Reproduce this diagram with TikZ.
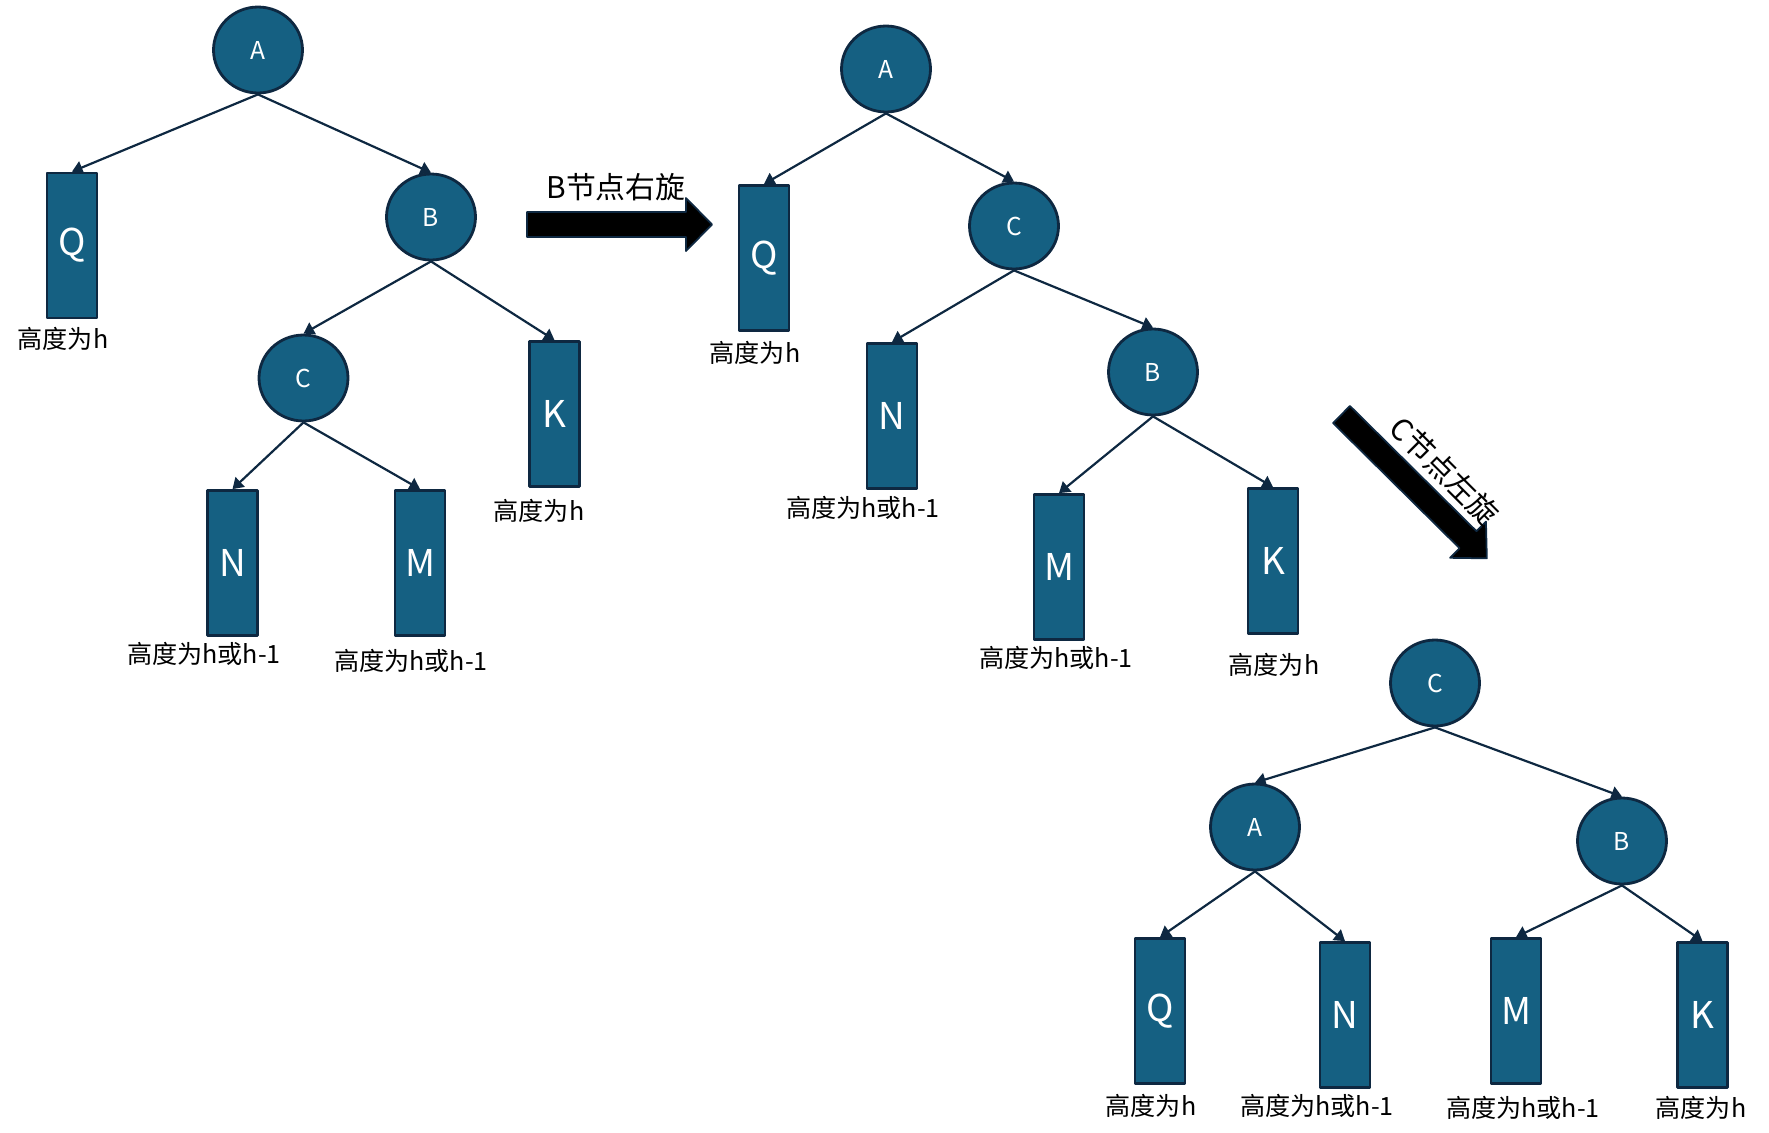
\documentclass[tikz,border=0pt]{standalone}
\usepackage{fontspec}
\setmainfont{Noto Sans CJK SC}
\usepackage{xcolor}
\usepackage{tikz}
\usetikzlibrary{arrows.meta,shapes.geometric}
\definecolor{nodefill}{HTML}{156082}
\definecolor{rim}{HTML}{0E2841}
\tikzset{fig/.style={x=0.02cm,y=-0.02cm,line join=round,>={Triangle[length=6pt,width=7.5pt]}},
  tnode/.style={ellipse,draw=rim,line width=1.6pt,fill=nodefill,text=white,inner sep=0pt,
    minimum width=1.78cm,minimum height=1.72cm,font=\fontsize{14}{14}\selectfont},
  sub/.style={rectangle,draw=rim,line width=1.6pt,fill=nodefill,text=white,inner sep=0pt,
    minimum width=1.0cm,minimum height=2.9cm,font=\fontsize{21}{21}\selectfont},
  hgt/.style={inner sep=0pt,font=\fontsize{14.3}{15}\selectfont},
  link/.style={rim,line width=1.25pt,->},
  turn/.style={fill=black,draw=rim,line width=1pt},
  turntxt/.style={inner sep=0pt,font=\fontsize{17}{17}\selectfont}}

\begin{document}
\begin{tikzpicture}[fig]
  \useasboundingbox (0,0) rectangle (1769,1133);
  % before
  \node[tnode](a1)at(258,50){A};\node[tnode](b1)at(431,217){B};\node[tnode](c1)at(303.5,378){C};
  \node[sub](q1)at(72,245.5){Q};\node[sub](k1)at(554.5,414){K};
  \node[sub](n1)at(232.5,563){N};\node[sub](m1)at(420,563){M};
  \node[hgt](lq1)at(63,339){高度为h};\node[hgt](lk1)at(539,511){高度为h};
  \node[hgt](ln1)at(204,654){高度为h或h-1};\node[hgt](lm1)at(411,661){高度为h或h-1};
  \draw[link](a1.south)--(q1.north);\draw[link](a1.south)--(b1.north);
  \draw[link](b1.south)--(c1.north);\draw[link](b1.south)--(k1.north);
  \draw[link](c1.south)--(n1.north);\draw[link](c1.south)--(m1.north);
  % first turn
  \filldraw[turn](527,212)--(686,212)--(686,198)--(712,224.5)--(686,251)--(686,237)--(527,237)--cycle;
  \node[turntxt](t1)at(616,187){B节点右旋};
  % after B
  \node[tnode](a2)at(886,69){A};\node[tnode](c2)at(1014,226){C};\node[tnode](b2)at(1153,372){B};
  \node[sub](q2)at(764,258){Q};\node[sub](n2)at(892,416){N};
  \node[sub](m2)at(1059,567){M};\node[sub](k2)at(1273,561){K};
  \node[hgt](lq2)at(755,353){高度为h};\node[hgt](ln2)at(863,508){高度为h或h-1};
  \node[hgt](lm2)at(1056,658){高度为h或h-1};\node[hgt](lk2)at(1274,665){高度为h};
  \draw[link](a2.south)--(q2.north);\draw[link](a2.south)--(c2.north);
  \draw[link](c2.south)--(n2.north);\draw[link](c2.south)--(b2.north);
  \draw[link](b2.south)--(m2.north);\draw[link](b2.south)--(k2.north);
  % second turn
  \begin{scope}[shift={(1341.5,414.5)},rotate=-44.7]
    \filldraw[turn](0,-12)--(178,-12)--(178,-25.5)--(204.5,0)--(178,25.5)--(178,12)--(0,12)--cycle;
  \end{scope}
  \node[turntxt,rotate=-45](t2)at(1445,471){C节点左旋};
  % after C
  \node[tnode](c3)at(1435,683){C};\node[tnode](a3)at(1255,827){A};\node[tnode](b3)at(1622,841){B};
  \node[sub](q3)at(1160,1011){Q};\node[sub](n3)at(1345,1015){N};
  \node[sub](m3)at(1516,1011){M};\node[sub](k3)at(1702.5,1015){K};
  \node[hgt](lq3)at(1151,1106){高度为h};\node[hgt](ln3)at(1317,1106){高度为h或h-1};
  \node[hgt](lm3)at(1523,1108){高度为h或h-1};\node[hgt](lk3)at(1701,1108){高度为h};
  \draw[link](c3.south)--(a3.north);\draw[link](c3.south)--(b3.north);
  \draw[link](a3.south)--(q3.north);\draw[link](a3.south)--(n3.north);
  \draw[link](b3.south)--(m3.north);\draw[link](b3.south)--(k3.north);
\end{tikzpicture}
\end{document}
